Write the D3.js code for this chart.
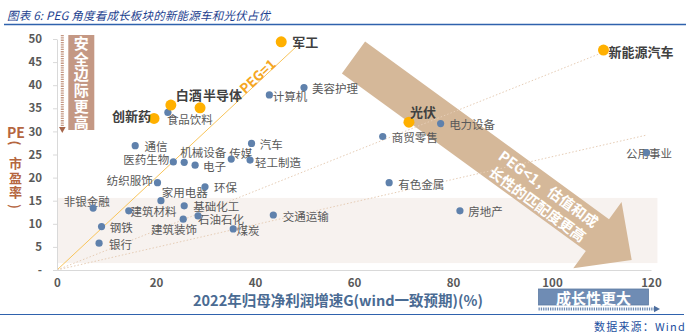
<!DOCTYPE html>
<html><head><meta charset="utf-8">
<script src="https://cdn.jsdelivr.net/npm/d3@7"></script>
<style>
body{margin:0;background:#fff;}
svg{display:block;}
text{font-family:"Noto Sans CJK SC","Noto Sans",sans-serif;}
</style></head><body>
<svg id="c" width="690" height="336"></svg>
<script>
// ---------------- data ----------------
const xTicks = [0, 20, 40, 60, 80, 100, 120];
const yTicks = [0, 5, 10, 15, 20, 25, 30, 35, 40, 45, 50];

// highlighted growth sectors (orange)
const starNames = ["军工", "白酒", "半导体", "创新药", "光伏", "新能源汽车"];
const starG     = [45.3, 23.0, 28.9, 19.6, 71.1, 110.4];
const starPE    = [49.4, 35.7, 35.1, 32.8, 32.0, 47.6];

// other sectors (blue)
const otherNames = ["食品饮料","计算机","美容护理","电力设备","商贸零售","公用事业","有色金属","房地产",
  "通信","医药生物","机械设备","电子","传媒","汽车","轻工制造","纺织服饰","环保","家用电器",
  "基础化工","建筑材料","石油石化","建筑装饰","交通运输","煤炭","钢铁","银行","非银金融"];
const otherG  = [22.4, 42.9, 49.9, 77.5, 65.8, 119.1, 67.1, 81.4,
  15.8, 23.5, 25.7, 27.9, 35.2, 39.3, 39.0, 20.3, 29.9, 21.0,
  25.7, 14.5, 28.5, 25.5, 43.7, 35.6, 9.0, 8.5, 7.3];
const otherPE = [34.1, 37.9, 39.5, 31.7, 28.9, 25.4, 18.9, 12.8,
  26.9, 23.4, 23.3, 22.7, 24.0, 27.4, 23.8, 18.9, 18.0, 15.0,
  13.9, 12.8, 11.7, 11.0, 11.9, 8.9, 9.4, 5.8, 13.4];

// reference PEG lines from the origin (end points)
const refEndG  = [48.5, 113.1, 119.1];
const refEndPE = [48.5, 48.3, 29.2];

// annotation anchors (data units)
const bandG = [0, 121.3], bandPE = [1.5, 15.6];
const arrowG = [59.9, 116.1], arrowPE = [46.0, 2.16];

// ---------------- layout ----------------
const svg = d3.select("#c");
const x = d3.scaleLinear().domain([0, 120]).range([57, 651]);
const y = d3.scaleLinear().domain([0, 50]).range([270, 39]);

// title
svg.append("text").attr("x", 7).attr("y", 15).attr("dominant-baseline", "central")
  .attr("font-size", 11.5).attr("font-style", "italic").attr("letter-spacing", 0.2)
  .attr("fill", "#1d3f8f").text("图表 6: PEG 角度看成长板块的新能源车和光伏占优");
svg.append("line").attr("x1", 4).attr("x2", 686).attr("y1", 24.5).attr("y2", 24.5)
  .attr("stroke", "#2f62ad").attr("stroke-width", 1.5);

// band
svg.append("rect").attr("x", x(bandG[0])).attr("y", y(bandPE[1]))
  .attr("width", x(bandG[1]) - x(bandG[0])).attr("height", y(bandPE[0]) - y(bandPE[1]))
  .attr("fill", "#f7f2ef");

// arrow
(function () {
  const S = [x(arrowG[0]), y(arrowPE[0])], T = [x(arrowG[1]), y(arrowPE[1])];
  const dx = T[0] - S[0], dy = T[1] - S[1], L = Math.hypot(dx, dy);
  const u = [dx / L, dy / L], n = [u[1], -u[0]];
  const bw = 19.7, hw = 41, hl = 42.4;
  const P = (a, b) => [S[0] + u[0] * a + n[0] * b, S[1] + u[1] * a + n[1] * b];
  const pts = [P(0, bw), P(L - hl, bw), P(L - hl, hw), P(L, 0), P(L - hl, -hw), P(L - hl, -bw), P(0, -bw)];
  svg.append("path").attr("d", "M" + pts.map(p => p.join(",")).join("L") + "Z").attr("fill", "#d5b899");
  const ang = Math.atan2(u[1], u[0]) * 180 / Math.PI;
  const lines = [["PEG<1，估值和成", 9.5], ["长性的匹配度更高", -9.5]];
  lines.forEach(([t, off]) => {
    const p = P(235, off);
    svg.append("text").attr("transform", `translate(${p[0]},${p[1]}) rotate(${ang})`)
      .attr("text-anchor", "middle").attr("dominant-baseline", "central")
      .attr("font-size", 14.5).attr("font-weight", "bold").attr("fill", "#fff").text(t);
  });
})();

// reference lines
refEndG.forEach((g, i) => {
  svg.append("line").attr("x1", x(0)).attr("y1", y(0)).attr("x2", x(g)).attr("y2", y(refEndPE[i]))
    .attr("stroke", i === 0 ? "#f8c45a" : "#e6cdb6").attr("stroke-width", 1)
    .attr("stroke-dasharray", i === 0 ? null : "1.5,2");
});
// PEG=1 label
(function () {
  const ang = Math.atan2(y(1) - y(0), x(1) - x(0)) * 180 / Math.PI;
  const px = x(41) - 3, py = y(41) - 5;
  svg.append("text").attr("transform", `translate(${px},${py}) rotate(${ang})`)
    .attr("text-anchor", "middle").attr("dominant-baseline", "central")
    .attr("font-family", "Liberation Sans, Arial, sans-serif")
    .attr("font-size", 13.5).attr("font-weight", "bold").attr("fill", "#f5a623").text("PEG=1");
})();

// axes
const yAxis = svg.append("g").attr("transform", `translate(${x(0)},0)`)
  .call(d3.axisLeft(y).tickValues(yTicks).tickSize(4).tickSizeOuter(0).tickPadding(11)
    .tickFormat(d => d === 0 ? "-" : d));
const xAxis = svg.append("g").attr("transform", `translate(0,${y(0)})`)
  .call(d3.axisBottom(x).tickValues(xTicks).tickSize(0).tickSizeOuter(0).tickPadding(8.5));
[yAxis, xAxis].forEach(a => {
  a.select(".domain").attr("stroke", "#d9d9d9");
  a.selectAll(".tick line").attr("stroke", "#d9d9d9");
  a.selectAll("text").attr("font-family", "Liberation Sans, Arial, sans-serif")
    .attr("font-size", 11.5).attr("font-weight", "bold").attr("fill", "#595959");
});

// label offsets [dx, dy, anchor]
const labelPos = {
  "军工": [11, 0, "start"], "白酒": [5, -11, "start"], "半导体": [3, -13.7, "start"],
  "创新药": [-3, -3, "end"], "光伏": [1, -10.5, "start"], "新能源汽车": [5, 1, "start"],
  "食品饮料": [-1, 7, "start"], "计算机": [3.5, 0.7, "start"], "美容护理": [8, 0, "start"],
  "电力设备": [8.5, 0.7, "start"], "商贸零售": [9, 0.4, "start"], "公用事业": [2.5, 0, "middle"],
  "有色金属": [9, 1.3, "start"], "房地产": [8.3, 0, "start"], "通信": [9.3, 0, "start"],
  "医药生物": [-4, -2.4, "end"], "机械设备": [-4, -10.3, "start"], "电子": [8, 0.8, "start"],
  "传媒": [-2, -6.3, "start"], "汽车": [8.3, 0.7, "start"], "轻工制造": [5, 2.3, "start"],
  "纺织服饰": [-4.7, -2.7, "end"], "环保": [9, 0.6, "start"], "家用电器": [0.7, -8.4, "start"],
  "基础化工": [9, 0.7, "start"], "建筑材料": [1.7, 0.3, "start"], "石油石化": [0, 3.3, "start"],
  "建筑装饰": [-9.3, 9.7, "middle"], "交通运输": [9.4, 0.7, "start"], "煤炭": [3.4, 1, "start"],
  "钢铁": [8.3, 0.6, "start"], "银行": [10, 0.7, "start"], "非银金融": [-6.3, -6.6, "middle"]
};

const others = otherNames.map((n, i) => ({ n, g: otherG[i], pe: otherPE[i] }));
const stars = starNames.map((n, i) => ({ n, g: starG[i], pe: starPE[i] }));

const gLab = svg.append("g");
others.forEach(d => {
  const [dx, dy, an] = labelPos[d.n];
  gLab.append("text").attr("x", x(d.g) + dx).attr("y", y(d.pe) + dy)
    .attr("text-anchor", an).attr("dominant-baseline", "central")
    .attr("font-size", 11.5).attr("fill", "#595959").text(d.n);
});
svg.append("g").selectAll("circle").data(others).join("circle")
  .attr("cx", d => x(d.g)).attr("cy", d => y(d.pe)).attr("r", 3.6).attr("fill", "#5f81ac");
svg.append("g").selectAll("circle").data(stars).join("circle")
  .attr("cx", d => x(d.g)).attr("cy", d => y(d.pe)).attr("r", 5.5).attr("fill", "#ffb000");
stars.forEach(d => {
  const [dx, dy, an] = labelPos[d.n];
  svg.append("text").attr("x", x(d.g) + dx).attr("y", y(d.pe) + dy)
    .attr("text-anchor", an).attr("dominant-baseline", "central")
    .attr("font-size", 13).attr("font-weight", "bold").attr("fill", "#404040").text(d.n);
});

// Y-axis title
const brown = "#b5663f";
svg.append("text").attr("x", 16).attr("y", 131.7).attr("text-anchor", "middle").attr("dominant-baseline", "central")
  .attr("font-family", "Liberation Sans, Arial, sans-serif").attr("font-size", 14).attr("font-weight", "bold")
  .attr("fill", brown).text("PE");
svg.append("text").attr("transform", "translate(15.5,143) rotate(90)").attr("text-anchor", "middle")
  .attr("dominant-baseline", "central").attr("font-size", 13).attr("font-weight", "bold").attr("fill", brown).text("(");
svg.append("text").attr("x", 15.5).attr("y", 178.3).attr("writing-mode", "vertical-rl")
  .attr("text-anchor", "middle").attr("letter-spacing", 1.3)
  .attr("font-size", 13).attr("font-weight", "bold").attr("fill", brown).text("市盈率");
svg.append("text").attr("transform", "translate(15.5,206.5) rotate(90)").attr("text-anchor", "middle")
  .attr("dominant-baseline", "central").attr("font-size", 13).attr("font-weight", "bold").attr("fill", brown).text(")");

// 安全边际更高 box
const boxBrown = "#c49884";
svg.append("rect").attr("x", 68.3).attr("y", 35).attr("width", 26).attr("height", 95).attr("fill", boxBrown);
svg.append("text").attr("x", 81.3).attr("y", 83).attr("writing-mode", "vertical-rl")
  .attr("text-anchor", "middle").attr("letter-spacing", 0.8)
  .attr("font-size", 15).attr("font-weight", "bold").attr("fill", "#fff").text("安全边际更高");
svg.append("line").attr("x1", 62.3).attr("x2", 62.3).attr("y1", 35).attr("y2", 127)
  .attr("stroke", boxBrown).attr("stroke-width", 3).attr("stroke-dasharray", "1.3,1");
svg.append("path").attr("d", "M59,127L65.6,127L62.3,133Z").attr("fill", "#a6654a");

// X-axis title
svg.append("text").attr("x", 338).attr("y", 299.5).attr("text-anchor", "middle").attr("dominant-baseline", "central")
  .attr("font-size", 14.5).attr("font-weight", "bold").attr("fill", "#4a6b93")
  .text("2022年归母净利润增速G(wind一致预期)(%)");

// 成长性更大 box
const boxBlue = "#6f8cb4";
svg.append("rect").attr("x", 538.5).attr("y", 289).attr("width", 110).attr("height", 16)
  .attr("fill", boxBlue).attr("stroke", "#5d7aa2").attr("stroke-width", 0.8);
svg.append("text").attr("x", 593.5).attr("y", 297).attr("text-anchor", "middle").attr("dominant-baseline", "central")
  .attr("font-size", 15).attr("font-weight", "bold").attr("fill", "#fff").text("成长性更大");
svg.append("line").attr("x1", 538.5).attr("x2", 654).attr("y1", 309).attr("y2", 309)
  .attr("stroke", boxBlue).attr("stroke-width", 3).attr("stroke-dasharray", "1.3,1");
svg.append("path").attr("d", "M654,305.7L660,309L654,312.3Z").attr("fill", "#4d6e9e");

// footer
svg.append("line").attr("x1", 0).attr("x2", 684).attr("y1", 314.5).attr("y2", 314.5)
  .attr("stroke", "#2f62ad").attr("stroke-width", 1.2);
svg.append("text").attr("x", 686).attr("y", 326).attr("text-anchor", "end").attr("dominant-baseline", "central")
  .attr("font-size", 11).attr("letter-spacing", 1.2).attr("fill", "#1d4fa0").text("数据来源：Wind");
</script>
</body></html>
